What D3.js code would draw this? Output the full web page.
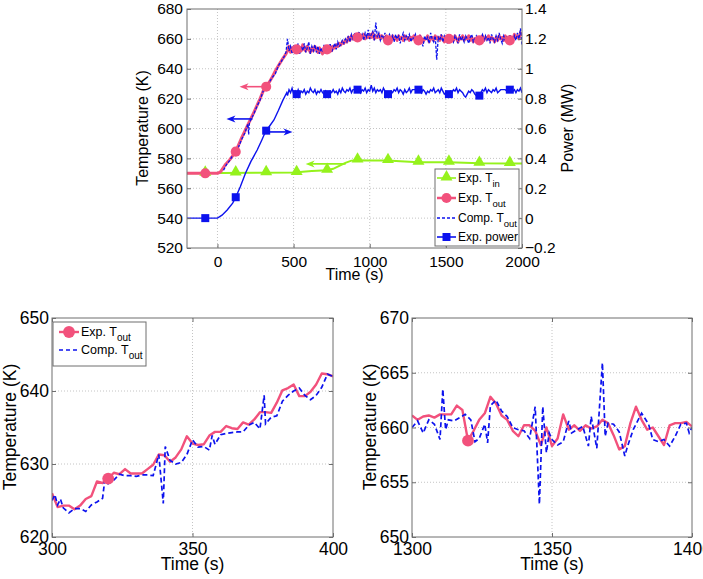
<!DOCTYPE html>
<html><head><meta charset="utf-8">
<script src="https://cdn.jsdelivr.net/npm/d3@7"></script>
<style>
body{margin:0;background:#fff;}
svg{display:block;font-family:"Liberation Sans",Arial,Helvetica,sans-serif;}
</style></head><body>
<svg id="c" width="703" height="579"></svg>
<script>
// ---------------- DATA ----------------
// Top panel ticks
const topTimeTicks = [0, 500, 1000, 1500, 2000];
const topTimeTickLabels = ["0", "500", "1000", "1500", "2000"];
const topTempTicks = [520, 540, 560, 580, 600, 620, 640, 660, 680];
const topPowerTicks = [-0.2, 0, 0.2, 0.4, 0.6, 0.8, 1, 1.2, 1.4];
const topPowerTickLabels = ["\u22120.2", "0", "0.2", "0.4", "0.6", "0.8", "1", "1.2", "1.4"];

// Exp. T_in (K)
const tinTime = [-200, 520, 560, 620, 720, 760, 800, 840, 880, 920, 1000, 1120, 1200, 1320, 1520, 1720, 1920, 2000];
const tinTemp = [570, 570.5, 571, 571.5, 572, 573, 575, 577, 578.5, 578.8, 578.6, 578.5, 578, 577.4, 577.4, 576.7, 576.6, 576.6];

// Exp. T_out ramp part (K)
const toutRampTime = [-200, 0, 20, 50, 80, 120, 160, 200, 240, 280, 300, 320, 340, 360, 380, 400, 430, 450];
const toutRampTemp = [570, 570, 571, 575.5, 579, 584.5, 594, 602.5, 611, 620, 625, 628, 631, 634.5, 638.5, 642, 647, 650];
// Comp. T_out ramp part (K)
const compRampTime = [40, 60, 80, 100, 120, 140, 160, 180, 200, 205, 210, 240, 260, 280, 300, 320, 340, 360, 380, 400, 420, 440, 450];
const compRampTemp = [572, 576, 578.5, 582, 584, 588, 593, 597, 603, 596, 604, 610, 615, 619, 625, 627.3, 631, 634.2, 636.6, 642, 645, 648.5, 651];
// Exp. power ramp part (MW)
const powerRampTime = [-200, 0, 30, 64, 100, 120, 150, 184, 220, 261, 290, 316, 345, 371, 400, 430, 447, 455];
const powerRampMW = [0, 0, 0.02, 0.055, 0.10, 0.14, 0.21, 0.30, 0.38, 0.456, 0.52, 0.58, 0.62, 0.657, 0.72, 0.79, 0.824, 0.84];

// Steady part sampled every 10 s from 460 s to 2000 s
const steadyStart = 460, steadyStep = 10;
const toutSteady = [
 652,655,651,654,652,655,653,651,654,652,
 656,653,652,655,653,651,654,652,655,653,
 651,654,652,650,653,651,653,653,655,652,
 655,654,656,655,657,656,658,657,659,658,
 661,659,662,660,662,661,661,660,662,661,
 663,660,662,661,663,661,664,660,662,661,
 663,660,662,661,660,662,659,661,660,662,
 660,661,659,662,660,661,659,662,660,661,
 659,661,660,662,661,661,659,662,660,658,
 660,660,662,658,660,661,659,662,660,661,
 659,662,660,658,661,659,660,660,661,659,
 662,660,658,661,660,662,659,661,660,662,
 659,661,658,660,659,661,659,660,662,659,
 661,660,662,659,661,660,658,661,659,662,
 660,661,659,662,660,658,659,661,660,663,
 661,662,660,664,662];
const compSteady = [
 660,652,655,650,656,651,654,657,650,655,
 652,657,651,654,658,650,655,652,656,651,
 655,650,654,651,656,650,653,652,657,651,
 654,657,653,658,655,656,659,657,660,658,
 662,658,663,660,664,659,662,665,660,663,
 659,664,661,666,660,663,665,659,671,661,
 664,659,662,660,664,658,661,663,659,662,
 658,663,660,662,657,661,664,659,662,660,
 663,658,661,660,663,659,661,662,658,655,
 662,659,661,657,664,660,658,662,646,661,
 659,663,658,662,660,657,663,659,661,658,
 662,660,657,663,659,661,658,662,660,657,
 661,663,658,660,662,659,657,661,663,658,
 662,659,661,657,663,660,658,662,659,664,
 660,657,662,659,661,658,663,660,657,662,
 659,664,660,667,656];
const powerSteady = [
 0.82,0.86,0.84,0.87,0.83,0.85,0.83,0.86,0.83,0.85,
 0.84,0.86,0.83,0.85,0.84,0.87,0.85,0.84,0.86,0.83,
 0.85,0.84,0.86,0.84,0.83,0.85,0.83,0.83,0.85,0.84,
 0.86,0.84,0.85,0.83,0.86,0.84,0.87,0.85,0.84,0.86,
 0.85,0.87,0.84,0.86,0.86,0.86,0.86,0.87,0.84,0.86,
 0.85,0.87,0.84,0.86,0.85,0.89,0.85,0.87,0.84,0.86,
 0.85,0.86,0.84,0.87,0.85,0.84,0.83,0.83,0.85,0.84,
 0.86,0.85,0.87,0.84,0.86,0.85,0.83,0.86,0.84,0.85,
 0.87,0.84,0.86,0.86,0.86,0.86,0.86,0.87,0.84,0.86,
 0.85,0.83,0.85,0.84,0.86,0.85,0.87,0.84,0.85,0.86,
 0.84,0.87,0.85,0.83,0.84,0.83,0.83,0.85,0.84,0.86,
 0.85,0.87,0.84,0.86,0.85,0.84,0.82,0.81,0.83,0.85,
 0.84,0.86,0.85,0.83,0.82,0.82,0.82,0.84,0.86,0.85,
 0.87,0.84,0.86,0.85,0.84,0.86,0.85,0.87,0.84,0.85,
 0.86,0.86,0.86,0.86,0.85,0.87,0.86,0.86,0.85,0.86,
 0.84,0.86,0.85,0.87,0.84];

// Marker times (every 200 s)
const markerTimes = [-80, 120, 320, 520, 720, 920, 1120, 1320, 1520, 1720, 1920];

// Direction arrows in the top panel (data coords)
const arrowFromTime = [296, 230, 329, 842];
const arrowToTime   = [145, 59, 493, 579];
const arrowLevel    = [628, 606.4, 0.577, 576.3];
const arrowAxis     = ["T", "T", "P", "T"];

// Legends
const topLegendNames = ["Exp. T", "Exp. T", "Comp. T", "Exp. power"];
const topLegendSubs  = ["in", "out", "out", ""];
const zoomLegendNames = ["Exp. T", "Comp. T"];
const zoomLegendSubs  = ["out", "out"];

// Zoom panel A: 300-400 s
const zoomATicksX = [300, 350, 400];
const zoomATickLabelsX = ["300", "350", "400"];
const zoomATicksY = [620, 630, 640, 650];
const zoomAExpStart = 300, zoomAExpStep = 2;
const zoomAExp = [626.0, 624.1, 624.3, 624.3, 623.8, 624.3, 625.2, 625.6, 627.6, 627.4,
  628.0, 628.8, 628.6, 629.3, 628.7, 628.7, 628.7, 629.3, 629.9, 631.3,
  631.2, 630.3, 630.9, 632.0, 633.8, 632.8, 632.6, 632.7, 633.9, 634.4,
  634.4, 635.2, 634.9, 634.8, 635.7, 635.4, 636.1, 637.1, 637.1, 637.0,
  638.4, 640.1, 640.4, 640.9, 639.3, 639.3, 639.9, 640.9, 642.4, 642.3, 642.0];
const zoomACompTime = [300, 301, 302, 303, 304, 306, 308, 310, 312, 314, 316, 318, 319, 320, 322, 324, 326, 328, 330, 332, 334, 336, 338, 339.6, 340.3, 342, 344, 346, 348, 350, 352, 354, 356, 357, 358, 360, 362, 364, 366, 368, 370, 372, 374, 375.5, 376, 378, 380, 382, 384, 386, 388, 390, 392, 394, 396, 398, 400];
const zoomACompTemp = [625.0, 625.8, 624.4, 625.2, 624.0, 623.3, 623.9, 623.9, 623.5, 624.4, 624.8, 625.3, 628.5, 627.3, 627.8, 628.6, 628.4, 628.4, 628.3, 628.5, 628.5, 628.4, 631.3, 624.6, 632.4, 630.5, 630.0, 630.2, 631.3, 633.3, 632.3, 632.4, 631.9, 633.9, 632.7, 634.0, 634.2, 634.3, 634.4, 634.4, 635.3, 635.7, 634.8, 639.4, 635.5, 636.4, 636.6, 638.6, 639.4, 640.0, 640.4, 639.4, 638.8, 639.4, 640.5, 642.3, 642.0];
const zoomAMarkerTime = [320];

// Zoom panel B: 1300-1400 s
const zoomBTicksX = [1300, 1350, 1400];
const zoomBTickLabelsX = ["1300", "1350", "1400"];
const zoomBTicksY = [650, 655, 660, 665, 670];
const zoomBExpStart = 1300, zoomBExpStep = 2;
const zoomBExp = [661.1, 660.7, 661.0, 661.1, 660.9, 661.2, 661.2, 661.2, 662.0, 661.6,
  658.8, 659.7, 660.7, 661.3, 662.8, 662.2, 661.1, 660.7, 659.7, 659.2,
  660.2, 660.2, 659.7, 658.4, 660.0, 658.3, 659.0, 661.2, 659.8, 660.2,
  659.7, 660.2, 659.9, 660.1, 660.7, 660.4, 659.3, 658.0, 658.3, 660.4,
  661.9, 660.7, 659.8, 660.0, 659.2, 658.4, 660.2, 660.4, 660.4, 660.5, 660.1];
const zoomBCompTime = [1300, 1302, 1304, 1306, 1308, 1310, 1311, 1312, 1313, 1315, 1317, 1319, 1321, 1322.5, 1324, 1326, 1327, 1328, 1330, 1332, 1334, 1336, 1338, 1340, 1342, 1344, 1345.5, 1346.7, 1348, 1349, 1350, 1352, 1354, 1356, 1357, 1359, 1361, 1363, 1364, 1366, 1368, 1369, 1370, 1372, 1374, 1376, 1377, 1379, 1382, 1384.5, 1386, 1388, 1390, 1392, 1394, 1396, 1398, 1399, 1400];
const zoomBCompTemp = [660.0, 660.6, 659.5, 660.7, 660.3, 658.9, 663.5, 659.8, 660.7, 660.6, 660.9, 661.2, 660.7, 658.7, 659.0, 660.3, 658.6, 662.0, 662.5, 661.5, 661.0, 660.0, 659.8, 659.7, 659.0, 661.9, 653.0, 661.9, 657.7, 659.5, 658.9, 658.4, 658.7, 660.6, 659.5, 659.8, 660.1, 658.3, 661.0, 658.1, 665.9, 659.2, 660.4, 660.3, 659.6, 657.4, 658.3, 659.8, 661.3, 660.3, 658.9, 658.7, 658.9, 658.3, 659.2, 660.3, 660.4, 659.5, 660.0];
const zoomBMarkerTime = [1320];

// ---------------- STYLE ----------------
const PINK = "#f2517c", BLUE = "#0c12ee", GREEN = "#95f21c";
const arrowColors = [PINK, BLUE, BLUE, GREEN];
const FRAME = "#6e6e6e", GRID = "#c4c4c4";

// ---------------- HELPERS ----------------
const svg = d3.select("#c");
const zip = (ts, vs) => ts.map((t, i) => [t, vs[i]]);
const steady = vals => vals.map((v, i) => [steadyStart + i * steadyStep, v]);
const regular = (start, step, vals) => vals.map((v, i) => [start + i * step, v]);
function interp(series, t) {
  for (let i = 1; i < series.length; i++) {
    if (t <= series[i][0]) {
      const [t0, v0] = series[i - 1], [t1, v1] = series[i];
      return v0 + (v1 - v0) * (t - t0) / (t1 - t0);
    }
  }
  return series[series.length - 1][1];
}
let clipId = 0;
function makeClip(x0, y0, w, h) {
  const id = "clip" + (clipId++);
  svg.append("clipPath").attr("id", id).append("rect")
    .attr("x", x0).attr("y", y0).attr("width", w).attr("height", h);
  return "url(#" + id + ")";
}
function grid(g, x, y, xt, yt) {
  const [x0, x1] = x.range(), [y1, y0] = y.range();
  g.selectAll(null).data(xt.filter(v => x(v) > x0 + 1 && x(v) < x1 - 1)).join("line")
    .attr("x1", d => x(d)).attr("x2", d => x(d)).attr("y1", y0).attr("y2", y1)
    .attr("stroke", GRID).attr("stroke-width", 1).attr("stroke-dasharray", "1,2");
  g.selectAll(null).data(yt.filter(v => y(v) > y0 + 1 && y(v) < y1 - 1)).join("line")
    .attr("y1", d => y(d)).attr("y2", d => y(d)).attr("x1", x0).attr("x2", x1)
    .attr("stroke", GRID).attr("stroke-width", 1).attr("stroke-dasharray", "1,2");
}
function styleAxis(sel, fs) {
  sel.select(".domain").remove();
  sel.attr("font-family", null).attr("font-size", null);
  sel.selectAll("text").attr("font-size", fs).attr("fill", "#000");
  sel.selectAll("line").attr("stroke", FRAME);
}
function frameRect(g, x, y) {
  const [x0, x1] = x.range(), [y1, y0] = y.range();
  g.append("rect").attr("x", x0).attr("y", y0).attr("width", x1 - x0).attr("height", y1 - y0)
    .attr("fill", "none").attr("stroke", FRAME).attr("stroke-width", 1);
}
function legendText(g, xx, yy, name, sub, fs, sfs) {
  const t = g.append("text").attr("x", xx).attr("y", yy).attr("dy", "0.35em").attr("font-size", fs);
  t.append("tspan").text(name);
  if (sub) t.append("tspan").attr("font-size", sfs).attr("dy", fs * 0.38).text(sub);
}

// ---------------- TOP PANEL ----------------
const X = d3.scaleLinear().domain([-200, 2000]).range([187, 522]);
const YT = d3.scaleLinear().domain([520, 680]).range([248, 9]);
const YP = d3.scaleLinear().domain([-0.2, 1.4]).range([248, 9]);
const topG = svg.append("g");
grid(topG, X, YT, topTimeTicks, topTempTicks);

const tinSeries = zip(tinTime, tinTemp);
const toutSeries = zip(toutRampTime, toutRampTemp).concat(steady(toutSteady));
const compSeries = zip(compRampTime, compRampTemp).concat(steady(compSteady));
const powerSeries = zip(powerRampTime, powerRampMW).concat(steady(powerSteady));

const topClip = makeClip(187, 9, 335, 239);
const dataG = topG.append("g").attr("clip-path", topClip);
const lineT = d3.line().x(d => X(d[0])).y(d => YT(d[1]));
const lineP = d3.line().x(d => X(d[0])).y(d => YP(d[1]));
dataG.append("path").datum(tinSeries).attr("d", lineT).attr("fill", "none").attr("stroke", GREEN).attr("stroke-width", 2);
dataG.append("path").datum(toutSeries).attr("d", lineT).attr("fill", "none").attr("stroke", PINK).attr("stroke-width", 3).attr("stroke-linejoin", "round");
dataG.append("path").datum(compSeries).attr("d", lineT).attr("fill", "none").attr("stroke", BLUE).attr("stroke-width", 1.3).attr("stroke-dasharray", "3,1.5");
dataG.append("path").datum(powerSeries).attr("d", lineP).attr("fill", "none").attr("stroke", BLUE).attr("stroke-width", 1.4);

const symTri = d3.symbol().type(d3.symbolTriangle).size(62);
const symCir = d3.symbol().type(d3.symbolCircle).size(80);
const symSq = d3.symbol().type(d3.symbolSquare).size(64);
dataG.selectAll(null).data(markerTimes).join("path").attr("d", symTri)
  .attr("transform", t => `translate(${X(t)},${YT(interp(tinSeries, t)) - 1})`).attr("fill", GREEN);
dataG.selectAll(null).data(markerTimes).join("path").attr("d", symCir)
  .attr("transform", t => `translate(${X(t)},${YT(interp(toutSeries, t))})`).attr("fill", PINK);
dataG.selectAll(null).data(markerTimes).join("path").attr("d", symSq)
  .attr("transform", t => `translate(${X(t)},${YP(interp(powerSeries, t))})`).attr("fill", BLUE);

// arrows
arrowFromTime.forEach((t0, i) => {
  const yy = arrowAxis[i] === "T" ? YT(arrowLevel[i]) : YP(arrowLevel[i]);
  const xa = X(t0), xb = X(arrowToTime[i]);
  const dir = xb < xa ? -1 : 1;
  topG.append("line").attr("x1", xa).attr("x2", xb - dir * 6).attr("y1", yy).attr("y2", yy)
    .attr("stroke", arrowColors[i]).attr("stroke-width", 1.6);
  topG.append("path").attr("d", `M${xb},${yy}L${xb - dir * 9},${yy - 3.5}L${xb - dir * 6.5},${yy}L${xb - dir * 9},${yy + 3.5}Z`)
    .attr("fill", arrowColors[i]);
});

frameRect(topG, X, YT);
topG.append("g").attr("transform", "translate(0,248)")
  .call(d3.axisBottom(X).tickValues(topTimeTicks).tickFormat((d, i) => topTimeTickLabels[i]).tickSize(-4).tickPadding(8))
  .call(s => styleAxis(s, 15.5));
topG.append("g").attr("transform", "translate(187,0)")
  .call(d3.axisLeft(YT).tickValues(topTempTicks).tickFormat(d3.format("d")).tickSize(-4).tickPadding(4)).call(s => styleAxis(s, 15.5));
topG.append("g").attr("transform", "translate(522,0)")
  .call(d3.axisRight(YP).tickValues(topPowerTicks).tickFormat((d, i) => topPowerTickLabels[i]).tickSize(-4).tickPadding(3))
  .call(s => styleAxis(s, 15.5));
topG.append("text").attr("x", 354.5).attr("y", 280).attr("text-anchor", "middle").attr("font-size", 16).text("Time (s)");
topG.append("text").attr("transform", "translate(148,128) rotate(-90)").attr("text-anchor", "middle").attr("font-size", 16).text("Temperature (K)");
topG.append("text").attr("transform", "translate(573,128) rotate(-90)").attr("text-anchor", "middle").attr("font-size", 16).text("Power (MW)");

// top legend
const lg = topG.append("g");
lg.append("rect").attr("x", 435).attr("y", 169).attr("width", 84).attr("height", 77)
  .attr("fill", "#fff").attr("stroke", FRAME).attr("stroke-width", 1);
const legYs = [178, 198, 218, 237];
const legColors = [GREEN, PINK, BLUE, BLUE];
const legSyms = [symTri, symCir, null, symSq];
topLegendNames.forEach((nm, i) => {
  const yy = legYs[i];
  const ln = lg.append("line").attr("x1", 437).attr("x2", 456).attr("y1", yy).attr("y2", yy)
    .attr("stroke", legColors[i]).attr("stroke-width", i === 1 ? 2.5 : (i === 2 ? 1.3 : 1.6));
  if (i === 2) ln.attr("stroke-dasharray", "3,2");
  if (legSyms[i]) lg.append("path").attr("d", legSyms[i]).attr("transform", `translate(446.5,${yy - (i === 0 ? 1 : 0)})`).attr("fill", legColors[i]);
  legendText(lg, 458, yy, nm, topLegendSubs[i], 12, 9.5);
});

// ---------------- ZOOM PANELS ----------------
function zoomPanel(x0, x1, xdom, ydom, xt, xtl, yt, expSeries, compSer, markerT, withLegend) {
  const x = d3.scaleLinear().domain(xdom).range([x0, x1]);
  const y = d3.scaleLinear().domain(ydom).range([537, 318]);
  const g = svg.append("g");
  grid(g, x, y, xt, yt);
  const clip = makeClip(x0, 318, x1 - x0, 219);
  const dg = g.append("g").attr("clip-path", clip);
  const line = d3.line().x(d => x(d[0])).y(d => y(d[1]));
  dg.append("path").datum(expSeries).attr("d", line).attr("fill", "none").attr("stroke", PINK).attr("stroke-width", 2.4).attr("stroke-linejoin", "round");
  dg.append("path").datum(compSer).attr("d", line).attr("fill", "none").attr("stroke", BLUE).attr("stroke-width", 1.7).attr("stroke-dasharray", "5,3");
  const sym = d3.symbol().type(d3.symbolCircle).size(110);
  dg.selectAll(null).data(markerT).join("path").attr("d", sym)
    .attr("transform", t => `translate(${x(t)},${y(interp(expSeries, t))})`).attr("fill", PINK);
  frameRect(g, x, y);
  g.append("g").attr("transform", "translate(0,537)")
    .call(d3.axisBottom(x).tickValues(xt).tickFormat((d, i) => xtl[i]).tickSize(-4).tickPadding(6)).call(s => styleAxis(s, 17.5));
  g.append("g").attr("transform", "translate(0,318)")
    .call(d3.axisTop(x).tickValues(xt).tickSize(-4).tickFormat("")).call(s => styleAxis(s, 17.5));
  g.append("g").attr("transform", `translate(${x0},0)`)
    .call(d3.axisLeft(y).tickValues(yt).tickFormat(d3.format("d")).tickSize(-4).tickPadding(3)).call(s => styleAxis(s, 17.5));
  g.append("g").attr("transform", `translate(${x1},0)`)
    .call(d3.axisRight(y).tickValues(yt).tickSize(-4).tickFormat("")).call(s => styleAxis(s, 17.5));
  g.append("text").attr("x", (x0 + x1) / 2).attr("y", 570).attr("text-anchor", "middle").attr("font-size", 17.5).text("Time (s)");
  g.append("text").attr("transform", `translate(${x0 - 36},427) rotate(-90)`).attr("text-anchor", "middle").attr("font-size", 17.5).text("Temperature (K)");
  if (withLegend) {
    g.append("rect").attr("x", 53).attr("y", 322).attr("width", 93).attr("height", 44)
      .attr("fill", "#fff").attr("stroke", FRAME).attr("stroke-width", 1);
    const ys = [332, 350];
    zoomLegendNames.forEach((nm, i) => {
      const l = g.append("line").attr("x1", 59).attr("x2", 79).attr("y1", ys[i]).attr("y2", ys[i])
        .attr("stroke", i === 0 ? PINK : BLUE).attr("stroke-width", i === 0 ? 2.4 : 1.7);
      if (i === 1) l.attr("stroke-dasharray", "4,3");
      if (i === 0) g.append("path").attr("d", sym).attr("transform", `translate(69,${ys[i]})`).attr("fill", PINK);
      legendText(g, 81, ys[i], nm, zoomLegendSubs[i], 12.5, 10);
    });
  }
}
zoomPanel(52, 333, [300, 400], [620, 650], zoomATicksX, zoomATickLabelsX, zoomATicksY,
  regular(zoomAExpStart, zoomAExpStep, zoomAExp), zip(zoomACompTime, zoomACompTemp), zoomAMarkerTime, true);
zoomPanel(412, 692, [1300, 1400], [650, 670], zoomBTicksX, zoomBTickLabelsX, zoomBTicksY,
  regular(zoomBExpStart, zoomBExpStep, zoomBExp), zip(zoomBCompTime, zoomBCompTemp), zoomBMarkerTime, false);
</script></body></html>
